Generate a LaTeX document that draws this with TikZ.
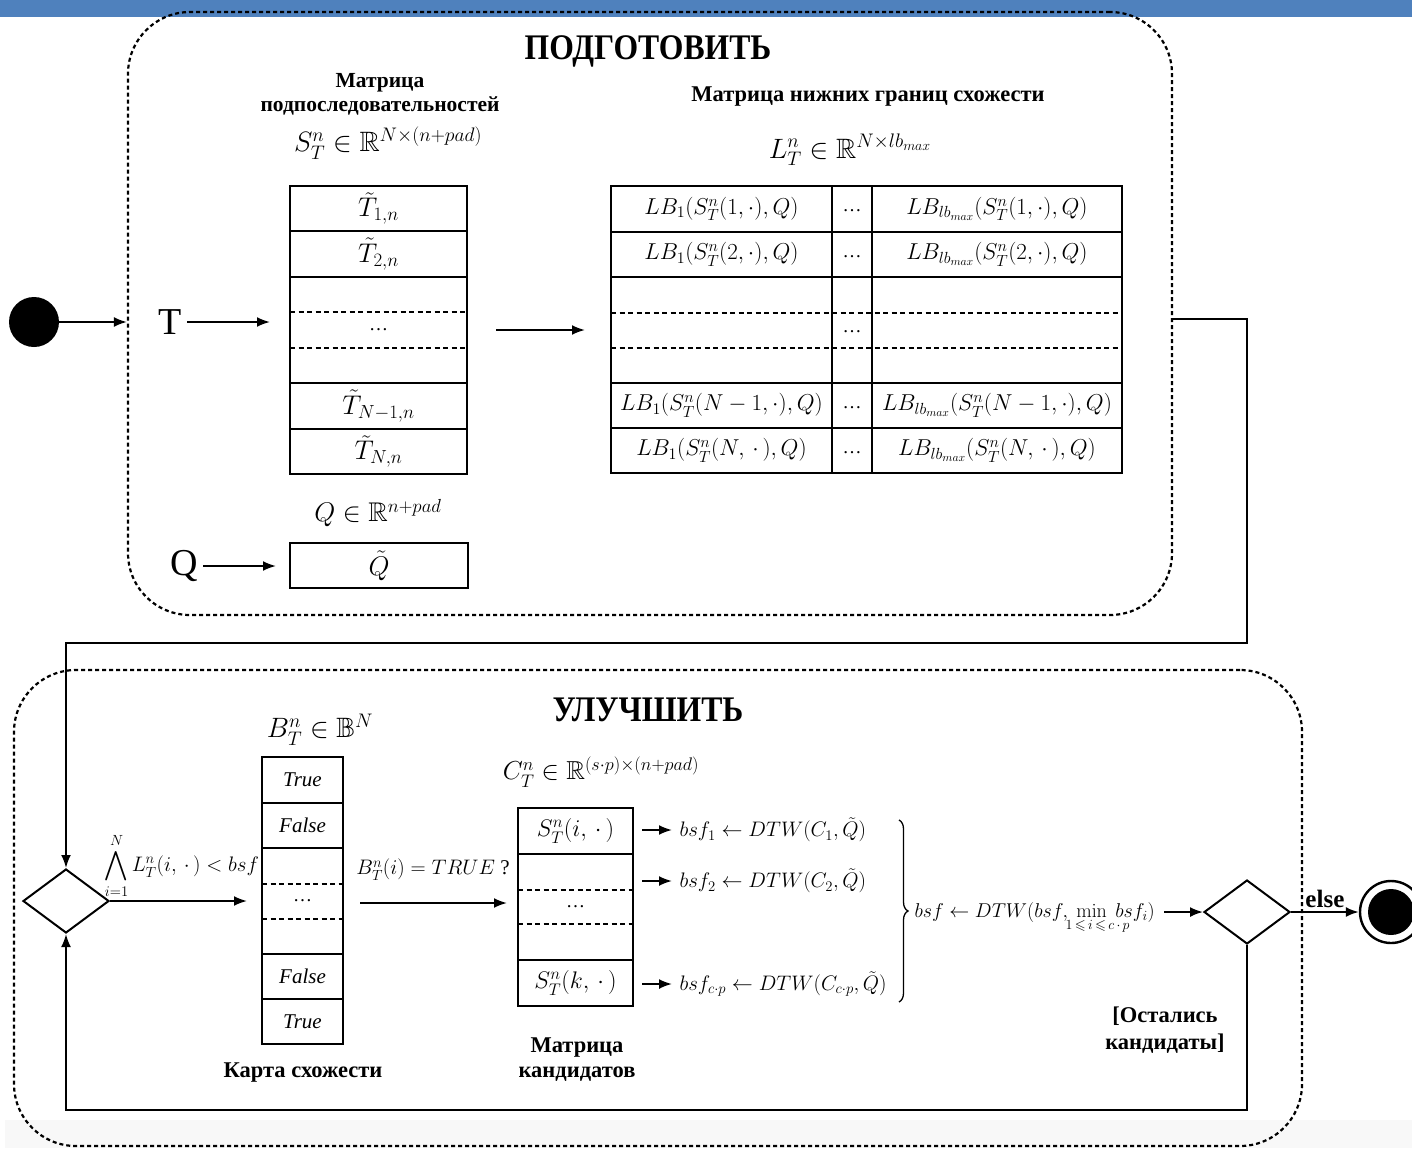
\RequirePackage{fix-cm}
\documentclass[tikz,border=0pt]{standalone}
\usepackage{amsmath,amssymb}
\usepackage[no-math]{fontspec}
\setmainfont{Liberation Serif}
\usetikzlibrary{arrows.meta,decorations.pathreplacing,shapes.geometric,calc}
\definecolor{topbar}{RGB}{79,129,189}
\definecolor{bottomstrip}{RGB}{248,248,248}
\newcommand{\setfs}[2]{\fontsize{#1}{#2}\selectfont}
\begin{document}
\begin{tikzpicture}[x=1pt,y=-1pt,
  region/.style={draw, line width=2.2pt, dash pattern=on 4pt off 3pt, rounded corners=62pt, inner sep=0pt},
  cell/.style={draw, line width=2pt, inner sep=0pt, outer sep=0pt},
  dline/.style={line width=1.6pt, dash pattern=on 5pt off 3.5pt},
  arr/.style={line width=2pt, -{Latex[length=13pt,width=10pt]}},
  ttl/.style={font={\setfs{36}{40}\bfseries}},
  hd/.style={font={\setfs{22.5}{25}\bfseries}, align=center},
  mlab/.style={font={\setfs{28}{30}}},
  tcell/.style={cell, minimum width=177pt, font={\setfs{27}{30}}},
  lcell/.style={cell, font={\setfs{23}{26}}},
  bcell/.style={cell, minimum width=81pt, font={\setfs{21}{23}\itshape}},
  ccell/.style={cell, minimum width=115pt, font={\setfs{24}{26}}},
  dots/.style={font={\setfs{19}{19}}, inner sep=0pt},
  dia/.style={diamond, draw, line width=2pt, minimum width=86pt, minimum height=64pt, inner sep=0pt},
  txt/.style={font={\setfs{21}{23}}}
]
\useasboundingbox (0,0) rectangle (1412,1148);
% background bands
\fill[topbar] (0,0) rectangle (1412,17);
\fill[bottomstrip] (5,1120) rectangle (1412,1148);

% regions
\node[region, minimum width=1044pt, minimum height=603pt] (prep) at (650,313.5) {};
\node[region, minimum width=1288pt, minimum height=476pt] (impr) at (658,908) {};

\node[ttl] (ttl1) at (648,51) {\scalebox{0.88}[1]{ПОДГОТОВИТЬ}};
\node[ttl] (ttl2) at (648,710) {\scalebox{0.88}[1]{УЛУЧШИТЬ}};

% ---------- PREPARE ----------
\node[hd, font={\setfs{21.5}{24}\bfseries}] (h1) at (380,94) {Матрица\\подпоследовательностей};
\node[hd] (h2) at (868,97) {Матрица нижних границ схожести};
\node[mlab] (sl) at (388,143) {$S_T^n \in \mathbb{R}^{N\times(n+pad)}$};
\node[mlab] (ll) at (850,150) {$L_T^n \in \mathbb{R}^{N\times lb_{max}}$};

% left matrix
\node[tcell, minimum height=45pt] (t1) at (378.5,208.5) {$\tilde T_{1,n}$};
\node[tcell, minimum height=46pt] (t2) at (378.5,254) {$\tilde T_{2,n}$};
\node[tcell, minimum height=106pt] (tm) at (378.5,330) {};
\node[dots] (tmd) at (tm) {…};
\node[tcell, minimum height=46pt] (t4) at (378.5,406) {$\tilde T_{N-1,n}$};
\node[tcell, minimum height=45pt] (t5) at (378.5,451.5) {$\tilde T_{N,n}$};
\draw[dline] (tm.west |- 0,312) -- (tm.east |- 0,312);
\draw[dline] (tm.west |- 0,348) -- (tm.east |- 0,348);

% right matrix
\node[lcell, minimum width=221pt, minimum height=46pt] (a1) at (721.5,209) {$LB_1(S_T^n(1,\cdot), Q)$};
\node[lcell, minimum width=40pt, minimum height=46pt] (b1) at (852,209) {};
\node[lcell, minimum width=250pt, minimum height=46pt] (c1) at (997,209) {$LB_{lb_{max}}(S_T^n(1,\cdot), Q)$};
\node[lcell, minimum width=221pt, minimum height=45pt] (a2) at (721.5,254.5) {$LB_1(S_T^n(2,\cdot), Q)$};
\node[lcell, minimum width=40pt, minimum height=45pt] (b2) at (852,254.5) {};
\node[lcell, minimum width=250pt, minimum height=45pt] (c2) at (997,254.5) {$LB_{lb_{max}}(S_T^n(2,\cdot), Q)$};
\node[lcell, minimum width=221pt, minimum height=106pt] (am) at (721.5,330) {};
\node[lcell, minimum width=40pt, minimum height=106pt] (bm) at (852,330) {};
\node[lcell, minimum width=250pt, minimum height=106pt] (cm) at (997,330) {};
\node[lcell, minimum width=221pt, minimum height=45pt] (a4) at (721.5,405.5) {$LB_1(S_T^n(N-1,\cdot), Q)$};
\node[lcell, minimum width=40pt, minimum height=45pt] (b4) at (852,405.5) {};
\node[lcell, minimum width=250pt, minimum height=45pt] (c4) at (997,405.5) {$LB_{lb_{max}}(S_T^n(N-1,\cdot), Q)$};
\node[lcell, minimum width=221pt, minimum height=45pt] (a5) at (721.5,450.5) {$LB_1(S_T^n(N,\,\cdot\,), Q)$};
\node[lcell, minimum width=40pt, minimum height=45pt] (b5) at (852,450.5) {};
\node[lcell, minimum width=250pt, minimum height=45pt] (c5) at (997,450.5) {$LB_{lb_{max}}(S_T^n(N,\,\cdot\,), Q)$};
\foreach \n in {b1,b2,bm,b4,b5} {\node[dots] at ([yshift=-2pt]\n.center) {…};}
\draw[dline] (am.west |- 0,313) -- (cm.east |- 0,313);
\draw[dline] (am.west |- 0,348) -- (cm.east |- 0,348);

% inputs
\node[circle, fill, minimum size=50pt, inner sep=0pt] (start) at (34,322) {};
\draw[arr] (start.east) -- (start.east -| prep.west);
\node[font={\setfs{38}{40}}] (T) at (170,322) {T};
\draw[arr, shorten <=2pt, shorten >=20pt] (T.east) -- (T.east -| tm.west);
\draw[arr, shorten <=29pt, shorten >=26pt] (tm.east) -- (am.west);

\node[font={\setfs{27}{30}}] (ql) at (378,513) {$Q \in \mathbb{R}^{n+pad}$};
\node[cell, minimum width=178pt, minimum height=45pt, font={\setfs{27}{30}}] (qt) at (379,565.5) {$\tilde Q$};
\node[font={\setfs{38}{40}}] (Q) at (184,566) {Q};
\draw[arr, shorten <=2pt, shorten >=14pt] (Q.east) -- (Q.east -| qt.west);

% ---------- IMPROVE ----------
\node[dia] (dL) at (66,901) {};
\node[dia] (dR) at (1247,912) {};

\coordinate (k1) at (1247,643);
\draw[arr] (prep.east |- 0,319) -| (k1) -| (dL.north);

\node[font={\setfs{28}{30}}] (bl) at (320,730) {$B_T^n \in \mathbb{B}^N$};
\node[bcell, minimum height=46pt] (m1) at (302.5,780) {True};
\node[bcell, minimum height=45pt] (m2) at (302.5,825.5) {False};
\node[bcell, minimum height=106pt] (mm) at (302.5,901) {};
\node[dots] (mmd) at (mm) {…};
\node[bcell, minimum height=45pt] (m4) at (302.5,976.5) {False};
\node[bcell, minimum height=45pt] (m5) at (302.5,1021.5) {True};
\draw[dline] (mm.west |- 0,884) -- (mm.east |- 0,884);
\draw[dline] (mm.west |- 0,919) -- (mm.east |- 0,919);
\node[hd] (kmap) at (303,1073) {Карта схожести};

\draw[arr, shorten >=15pt] (dL.east) -- (dL.east -| mm.west);
\node[font={\setfs{21}{23}}] (wl) at (182,866) {$\displaystyle\bigwedge_{i=1}^{N} L_T^n(i,\,\cdot\,) < bsf$};

\node[font={\setfs{26}{28}}] (cl) at (601,772) {$C_T^n \in \mathbb{R}^{(s\cdot p)\times(n+pad)}$};
\node[ccell, minimum height=46pt] (r1) at (575.5,831) {$S_T^n(i,\,\cdot\,)$};
\node[ccell, minimum height=106pt] (rm) at (575.5,907) {};
\node[dots] (rmd) at (rm) {…};
\node[ccell, minimum height=46pt] (r3) at (575.5,983) {$S_T^n(k,\,\cdot\,)$};
\draw[dline] (rm.west |- 0,890) -- (rm.east |- 0,890);
\draw[dline] (rm.west |- 0,924) -- (rm.east |- 0,924);
\node[hd] (cmap) at (577,1060) {Матрица\\кандидатов};

\draw[arr, shorten <=17pt, shorten >=11pt] (mm.east |- 0,903) -- (rm.west |- 0,903);
\node[txt] (bt) at (433,870) {$B_T^n(i) = TRUE$ ?};

\node[txt, anchor=west] (s1) at (676,830) {$bsf_1 \leftarrow DTW(C_1,\tilde Q)$};
\node[txt, anchor=west] (s2) at (676,881) {$bsf_2 \leftarrow DTW(C_2,\tilde Q)$};
\node[txt, anchor=west] (s3) at (676,984) {$bsf_{c\cdot p} \leftarrow DTW(C_{c\cdot p},\tilde Q)$};
\draw[arr, shorten <=9pt, shorten >=4pt] (r1.east |- s1.west) -- (s1.west);
\draw[arr, shorten <=9pt, shorten >=4pt] (rm.east |- s2.west) -- (s2.west);
\draw[arr, shorten <=9pt, shorten >=4pt] (r3.east |- s3.west) -- (s3.west);

\draw[line width=1.3pt, decorate, decoration={brace, amplitude=9pt}] (899,820) -- (899,1002);
\node[txt, font={\setfs{20}{22}}, anchor=base west] (fin) at (911,917) {$bsf \leftarrow DTW(bsf,\ \min\limits_{\makebox[0pt]{$\scriptstyle\hspace{12pt}1\,\leqslant\, i\,\leqslant\, c\,\cdot\, p$}}\ bsf_i)$};
\draw[arr, shorten <=6pt] (fin.east |- dR.west) -- (dR.west);

\node[circle, draw, line width=2.4pt, minimum size=62pt, inner sep=0pt] (end) at (1391,912) {};
\node[circle, fill, minimum size=46pt, inner sep=0pt] (endin) at (end.center) {};
\draw[arr] (dR.east) -- (end.west) node[midway, above, font={\setfs{25}{27}\bfseries}] {else};

\coordinate (k2) at (1247,1110);
\draw[arr] (dR.south) -- (k2) -| (dL.south);
\node[hd, font={\setfs{22.5}{27}\bfseries}] (rem) at (1165,1030) {[Остались\\кандидаты]};
\end{tikzpicture}
\end{document}
